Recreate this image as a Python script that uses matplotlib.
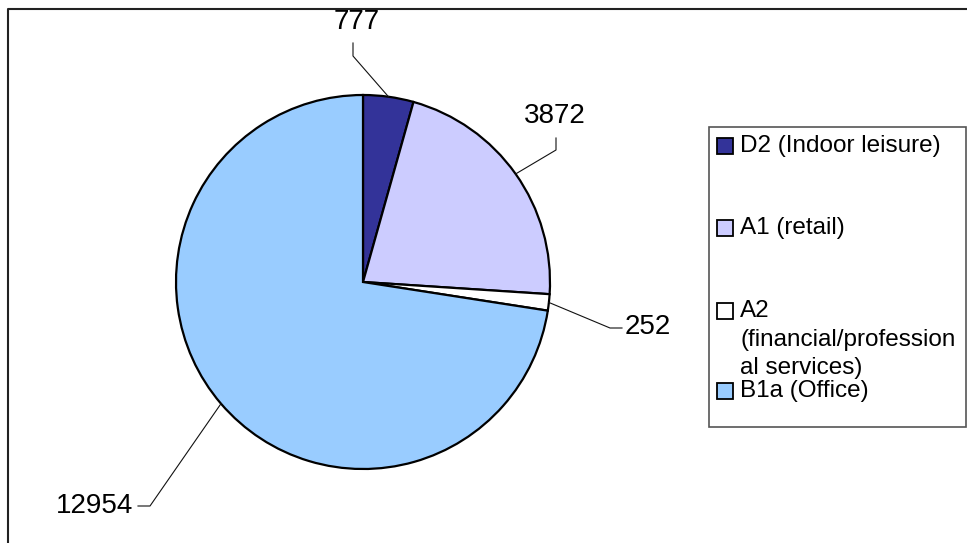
import matplotlib.pyplot as plt
import numpy as np
from matplotlib.patches import Rectangle

plt.rcParams['font.family'] = ['Liberation Sans', 'DejaVu Sans']

categories = ['D2 (Indoor leisure)', 'A1 (retail)',
              'A2\n(financial/profession\nal services)', 'B1a (Office)']
values = [777, 3872, 252, 12954]
colors = ['#333399', '#CCCCFF', '#FFFFFF', '#99CCFF']

# label text position, elbow point (pixels, y down)
label_pos = [(357, 22), (555, 116), (648, 327), (95, 506)]
elbows = [[(353, 43), (353, 56)], [(556, 138), (556, 150)],
          [(622, 328), (610, 328)], [(138, 506), (150, 506)]]

W, H = 967, 543
cx, cy, R = 363, 282, 187

fig = plt.figure(figsize=(W/100, H/100), dpi=100)
ax = fig.add_axes([0, 0, 1, 1])

# outer frame (cut off on right and bottom)
ax.plot([8, 8, W + 5], [H + 5, 9, 9], color='#222222', lw=1.5, clip_on=False)

# y axis is inverted -> start at -90 and go counterclock in data space = clockwise on screen
wedges, _ = ax.pie(values, colors=colors, startangle=-90, counterclock=True,
                   center=(cx, cy), radius=R, frame=True,
                   wedgeprops=dict(edgecolor='black', linewidth=1.6))
ax.set_xlim(0, W)
ax.set_ylim(H, 0)
ax.axis('off')

total = float(sum(values))
cum = np.cumsum([0] + values[:-1])
for i, v in enumerate(values):
    mid = np.deg2rad(-90 + (cum[i] + v / 2.0) / total * 360)
    ax_, ay_ = cx + R * np.cos(mid), cy + R * np.sin(mid)
    pts = elbows[i] + [(ax_, ay_)]
    xs, ys = zip(*pts)
    ax.plot(xs, ys, color='#111111', lw=0.8)
    ax.text(label_pos[i][0], label_pos[i][1], str(v), fontsize=20,
            ha='center', va='center', color='black')

# legend box drawn by hand
ax.add_patch(Rectangle((709, 127), 257, 300, facecolor='white',
                       edgecolor='#555555', lw=1.2))
sq = 16
leg_y = [146, 228, 311, 391]
for i, name in enumerate(categories):
    ax.add_patch(Rectangle((717, leg_y[i] - sq/2), sq, sq, facecolor=colors[i],
                           edgecolor='black', lw=1.3))
    lines = name.split('\n')
    for j, ln in enumerate(lines):
        yy = leg_y[i] + j * 29 if j < 2 else leg_y[i] + 57
        ax.text(740, yy, ln, fontsize=17.5, ha='left', va='center', color='black')

fig.savefig('out.png', dpi=100)
